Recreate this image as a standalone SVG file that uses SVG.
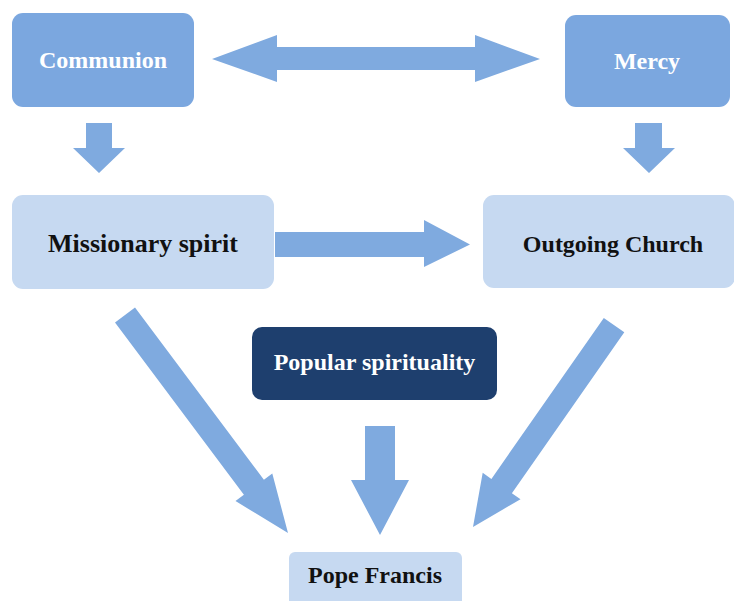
<svg xmlns="http://www.w3.org/2000/svg" width="734" height="601" viewBox="0 0 734 601">
<style>
.mid{fill:#7BA7DF}
.light{fill:#C6D9F1}
.dark{fill:#1E3F6E}
.arrow{fill:#7FAADF}
text{font-family:"Liberation Serif","Times New Roman",serif;font-weight:bold;font-size:24px;text-anchor:middle}
.tw{fill:#FFFFFF}
.tb{fill:#111111}
</style>
<rect width="734" height="601" fill="#FFFFFF"/>
<g id="connectors">
<polygon class="arrow" points="212,59 277,35 277,47 475,47 475,35 540,59 475,82 475,70 277,70 277,82"/>
<polygon class="arrow" points="86,123 112,123 112,148 125,148 99,173 73,148 86,148"/>
<polygon class="arrow" points="635,123 662,123 662,148 675,148 649,173 623,148 635,148"/>
<polygon class="arrow" points="275,232 424,232 424,220 470,244.5 424,267 424,257 275,257"/>
<polygon class="arrow" points="135,307.5 263.9,479.8 272.3,473.5 288,533 235.5,501.1 243.9,494.8 115,322.5"/>
<polygon class="arrow" points="624.3,332.2 511.9,493.2 520.5,499.2 473,527 482.7,472.8 491.4,478.9 603.8,317.9"/>
<polygon class="arrow" points="365,426 395,426 395,480 409,480 380,535 351,480 365,480"/>
</g>
<g id="communion">
<rect class="mid" x="12" y="13" width="182" height="94" rx="11"/>
<text class="tw" x="103" y="68">Communion</text>
</g>
<g id="mercy">
<rect class="mid" x="565" y="15" width="165" height="92" rx="11"/>
<text class="tw" x="647" y="69">Mercy</text>
</g>
<g id="missionary">
<rect class="light" x="12" y="195" width="262" height="94" rx="11"/>
<text class="tb" x="143" y="252" style="font-size:26px">Missionary spirit</text>
</g>
<g id="outgoing">
<rect class="light" x="483" y="195" width="252" height="93" rx="11"/>
<text class="tb" x="613" y="252">Outgoing Church</text>
</g>
<g id="popular">
<rect class="dark" x="252" y="327" width="245" height="73" rx="10"/>
<text class="tw" x="374.5" y="370">Popular spirituality</text>
</g>
<g id="pope">
<rect class="light" x="289" y="552" width="173" height="54" rx="6"/>
<text class="tb" x="375" y="583">Pope Francis</text>
</g>
</svg>
